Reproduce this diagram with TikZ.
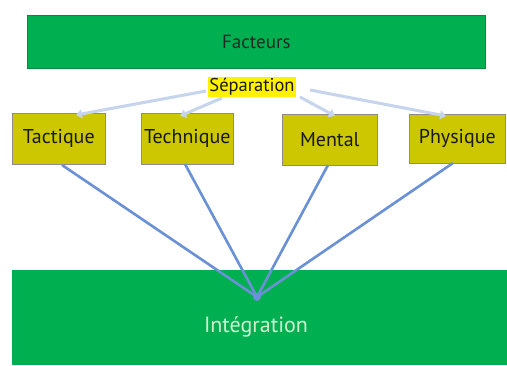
\documentclass[tikz,border=0pt]{standalone}
\usepackage{fontspec}
\setmainfont{PT Sans}
\usetikzlibrary{arrows.meta}
\definecolor{grn}{HTML}{00B050}
\definecolor{olv}{HTML}{CCC700}
\definecolor{lnk}{HTML}{6A90D6}
\definecolor{pale}{HTML}{C6D4EE}
\definecolor{ltxt}{HTML}{CFF2CF}
\begin{document}
\begin{tikzpicture}[x=1pt,y=-1pt,
  factor/.style={draw=black!45,line width=0.6pt,fill=olv,minimum height=51pt,inner sep=0pt,font=\fontsize{20}{24}\selectfont,text=black!90},
  sepline/.style={draw=pale,line width=3pt,-{Triangle[width=9pt,length=6pt]}},
  intline/.style={draw=lnk,line width=2.6pt}]
\useasboundingbox (0,0) rectangle (507,365);
\fill[white] (0,0) rectangle (507,365);
\node[draw=grn!80!black,line width=0.6pt,fill=grn,minimum width=458pt,minimum height=53pt,inner sep=0pt,anchor=north west,font=\fontsize{19}{22}\selectfont,text=black!85] (fac) at (27,15) {Facteurs};
\node[fill=grn,minimum width=495pt,minimum height=95pt,inner sep=0pt,anchor=north west] (int) at (12,270) {};
\node[font=\fontsize{22}{26}\selectfont,text=ltxt] (intlab) at (256,327) {Intégration};
\node[factor,minimum width=93pt,anchor=north west] (tac) at (12,113) {Tactique};
\node[factor,minimum width=92pt,anchor=north west] (tec) at (141,113) {Technique};
\node[factor,minimum width=95pt,anchor=north west] (men) at (282,114) {Mental};
\node[factor,minimum width=96pt,minimum height=49pt,anchor=north west] (phy) at (409,114) {Physique};
\coordinate (c1) at (62,165);
\coordinate (c2) at (185,164);
\coordinate (c3) at (328,165);
\coordinate (c4) at (453,163);
\coordinate (hub) at (257,297);
\draw[sepline] (206,91) -- (76,115);
\draw[sepline] (222,98) -- (180,116);
\draw[sepline] (300,97) -- (335,116);
\draw[sepline] (310,90) -- (446,116);
\node[fill=yellow,inner sep=1.2pt,font=\fontsize{18.5}{22}\selectfont,text=black!90] (sep) at (252,87) {Séparation};
\draw[intline] (c1) -- (hub);
\draw[intline] (c2) -- (hub);
\draw[intline] (c3) -- (hub);
\draw[intline] (c4) -- (hub);
\fill[lnk] (hub) circle (4pt);
\end{tikzpicture}
\end{document}
